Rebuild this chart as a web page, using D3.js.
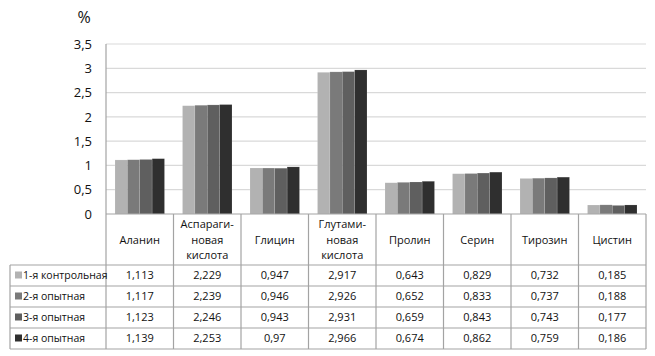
<!DOCTYPE html>
<html><head><meta charset="utf-8">
<script src="https://cdn.jsdelivr.net/npm/d3@7"></script>
<style>body{margin:0;background:#fff}svg{display:block;font-family:"Open Sans",sans-serif}</style>
</head><body><svg id="c" width="655" height="356"></svg>
<script>
const categories = [["Аланин"],["Аспараги-","новая","кислота"],["Глицин"],["Глутами-","новая","кислота"],["Пролин"],["Серин"],["Тирозин"],["Цистин"]];
const seriesNames = ["1-я контрольная","2-я опытная","3-я опытная","4-я опытная"];
const s1 = [1.113,2.229,0.947,2.917,0.643,0.829,0.732,0.185];
const s2 = [1.117,2.239,0.946,2.926,0.652,0.833,0.737,0.188];
const s3 = [1.123,2.246,0.943,2.931,0.659,0.843,0.743,0.177];
const s4 = [1.139,2.253,0.97,2.966,0.674,0.862,0.759,0.186];
const yTicks = [0,0.5,1,1.5,2,2.5,3,3.5];
const colors = ["#b2b2b2","#7a7a7a","#5f5f5f","#2f2f2f"];
const series = [s1,s2,s3,s4];

const svg = d3.select("#c");
const L=106, R=646, T=44, B=214;
const x = d3.scaleBand().domain(d3.range(categories.length)).range([L,R]).paddingInner(0).paddingOuter(0);
const inner = d3.scaleBand().domain(d3.range(4)).range([9,x.bandwidth()-9]).padding(0);
const y = d3.scaleLinear().domain([0,3.5]).range([B,T]);
const fmt = v => String(v).replace(".",",");

// gridlines
svg.append("g").selectAll("line").data(yTicks.filter(d=>d>0)).join("line")
  .attr("x1",L).attr("x2",R).attr("y1",d=>y(d)).attr("y2",d=>y(d))
  .attr("stroke","#d9d9d9").attr("stroke-width",1.2);

// y axis
const ax = svg.append("g").attr("transform",`translate(${L},0)`)
  .call(d3.axisLeft(y).tickValues(yTicks).tickFormat(fmt).tickSize(0).tickPadding(14));
ax.select(".domain").remove();
ax.selectAll("text").attr("font-size",13).attr("fill","#111").attr("font-family","Open Sans");
svg.append("text").attr("x",84).attr("y",23).attr("text-anchor","middle").attr("font-size",16).attr("fill","#111").text("%");

// bars
series.forEach((s,i)=>{
  svg.append("g").selectAll("rect").data(s).join("rect")
    .attr("x",(d,j)=>x(j)+inner(i)).attr("width",inner.bandwidth())
    .attr("y",d=>y(d)).attr("height",d=>B-y(d)).attr("fill",colors[i])
    .attr("stroke","#ffffff").attr("stroke-opacity",0.25).attr("stroke-width",0.5);
});

// table
const bc="#a3a3a3";
const rowTop=265, rowH=21, tL=10, tB=rowTop+rowH*4;
const tg = svg.append("g").attr("stroke",bc).attr("stroke-width",1.2);
tg.append("line").attr("x1",L).attr("x2",R).attr("y1",B).attr("y2",B);
for(let r=0;r<=4;r++) tg.append("line").attr("x1",tL).attr("x2",R).attr("y1",rowTop+r*rowH).attr("y2",rowTop+r*rowH);
tg.append("line").attr("x1",tL).attr("x2",tL).attr("y1",rowTop).attr("y2",tB);
tg.append("line").attr("x1",L).attr("x2",L).attr("y1",T).attr("y2",tB);
for(let j=1;j<=categories.length;j++) tg.append("line").attr("x1",x(j-1)+x.bandwidth()).attr("x2",x(j-1)+x.bandwidth()).attr("y1",B).attr("y2",tB);

// headers
categories.forEach((lines,j)=>{
  const cx = x(j)+x.bandwidth()/2;
  const n = lines.length;
  lines.forEach((t,k)=>{
    svg.append("text").attr("x",cx).attr("y",240+(k-(n-1)/2)*15.5).attr("dy","0.35em")
      .attr("text-anchor","middle").attr("font-size",11).attr("fill","#111").text(t);
  });
});
// rows
series.forEach((s,i)=>{
  const cy = rowTop+i*rowH+rowH/2;
  svg.append("rect").attr("x",15).attr("y",cy-4).attr("width",7).attr("height",7).attr("fill",colors[i]);
  svg.append("text").attr("x",23).attr("y",cy).attr("dy","0.35em").attr("font-size",10.5).attr("fill","#111").text(seriesNames[i]);
  s.forEach((v,j)=>{
    svg.append("text").attr("x",x(j)+x.bandwidth()/2).attr("y",cy).attr("dy","0.35em")
      .attr("text-anchor","middle").attr("font-size",11).attr("fill","#111").text(fmt(v));
  });
});
</script></body></html>
